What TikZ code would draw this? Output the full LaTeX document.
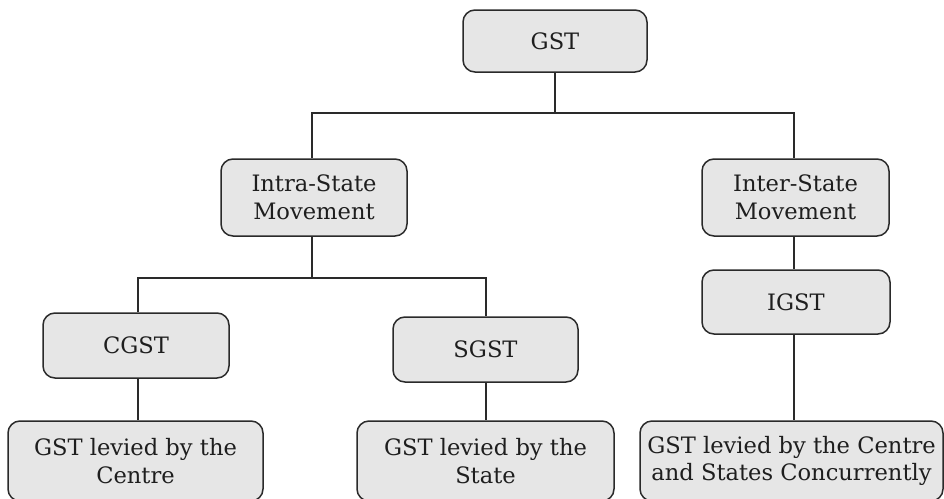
\documentclass[tikz,border=0pt]{standalone}
\usepackage{fontspec}
\setmainfont{DejaVu Serif}
\definecolor{boxfill}{HTML}{E6E6E6}
\definecolor{boxline}{HTML}{2A2A2A}
\definecolor{txt}{HTML}{1E1E1E}
\begin{document}
\begin{tikzpicture}[x=1pt,y=-1pt,
  box/.style={draw=boxline, fill=boxfill, line width=1.5pt, rounded corners=12pt,
    text=txt, align=center, inner sep=0pt, font=\fontsize{22.6}{27.5}\selectfont},
  link/.style={draw=boxline, line width=1.4pt}]
\useasboundingbox (0,0) rectangle (944,498);
\clip (0,0) rectangle (944,498);
\fill[white] (0,0) rectangle (944,498);
% boxes
\node[box, minimum width=184pt, minimum height=62pt] (gst) at (555,41) {GST};
\node[box, minimum width=186pt, minimum height=77pt] (intra) at (314,197.5) {Intra-State\\Movement};
\node[box, minimum width=187pt, minimum height=77pt] (inter) at (795.5,197.5) {Inter-State\\Movement};
\node[box, minimum width=186pt, minimum height=65pt] (cgst) at (136,345.5) {CGST};
\node[box, minimum width=185pt, minimum height=65pt] (sgst) at (485.5,349.5) {SGST};
\node[box, minimum width=188pt, minimum height=64pt] (igst) at (796,302) {IGST};
\node[box, minimum width=255pt, minimum height=80pt] (lc) at (135.5,461) {GST levied by the\\Centre};
\node[box, minimum width=257pt, minimum height=80pt] (ls) at (485.5,461) {GST levied by the\\State};
\node[box, minimum width=303pt, minimum height=80pt] (lcs) at (791.5,461) {GST levied by the Centre\\and States Concurrently};
% junction points
\coordinate (j1) at (555,113);
\coordinate (j2) at (312,278);
% connectors
\draw[link] (gst.south -| j1) -- (j1);
\draw[link] (intra.north -| 312,0) |- (j1) -| (inter.north -| 794,0);
\draw[link] (intra.south -| j2) -- (j2);
\draw[link] (cgst.north -| 138,0) |- (j2) -| (sgst.north -| 486,0);
\draw[link] (inter.south -| 794,0) -- (igst.north -| 794,0);
\draw[link] (igst.south -| 794,0) -- (lcs.north -| 794,0);
\draw[link] (cgst.south -| 138,0) -- (lc.north -| 138,0);
\draw[link] (sgst.south -| 486,0) -- (ls.north -| 486,0);
\end{tikzpicture}
\end{document}
